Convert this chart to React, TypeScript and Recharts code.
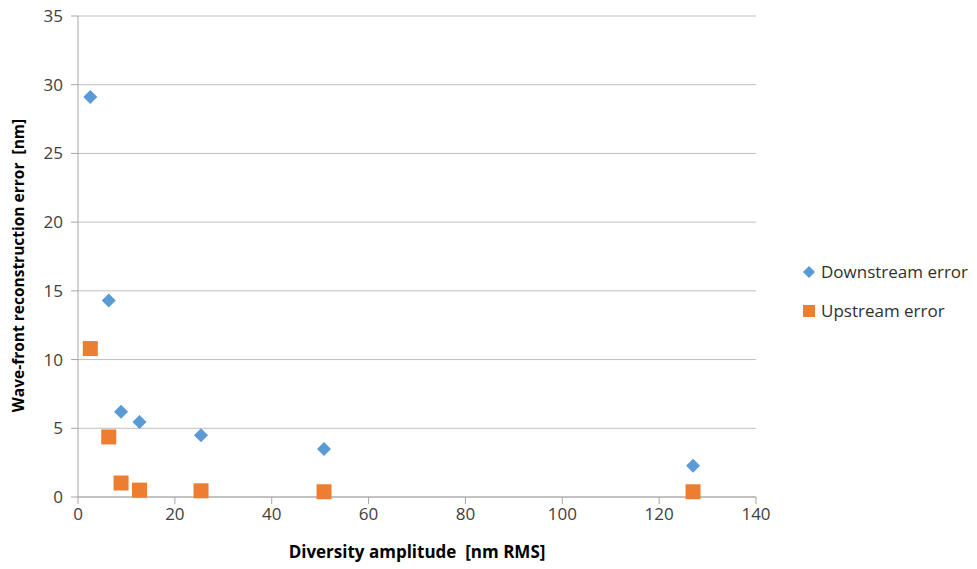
import { ScatterChart, Scatter, XAxis, YAxis, CartesianGrid } from 'recharts';

const DIVERSITY = [2.54, 6.35, 8.89, 12.7, 25.4, 50.8, 127];
const DOWNSTREAM = [29.1, 14.3, 6.2, 5.45, 4.5, 3.5, 2.27];
const UPSTREAM = [10.8, 4.37, 1.02, 0.5, 0.45, 0.38, 0.38];
const X_TICKS = [0, 20, 40, 60, 80, 100, 120, 140];
const Y_TICKS = [0, 5, 10, 15, 20, 25, 30, 35];

const BLUE = '#5B9BD5';
const ORANGE = '#ED7D31';
const FONT = "'Open Sans', 'Liberation Sans', sans-serif";

const downData = DIVERSITY.map((x, i) => ({ x, y: DOWNSTREAM[i] }));
const upData = DIVERSITY.map((x, i) => ({ x, y: UPSTREAM[i] }));

const Diamond = (p: any) => (
  <polygon
    points={`${p.cx},${p.cy - 7} ${p.cx + 7},${p.cy} ${p.cx},${p.cy + 7} ${p.cx - 7},${p.cy}`}
    fill={BLUE}
  />
);

const Square = (p: any) => <rect x={p.cx - 7.5} y={p.cy - 7.5} width={15} height={15} fill={ORANGE} />;

// y title sits a little below the plot centre in the original
const YTitle = (p: any) => {
  const vb = p.viewBox;
  const cx = 18;
  const cy = vb.y + vb.height / 2 + 9;
  return (
    <text
      x={cx}
      y={cy}
      transform={`rotate(-90, ${cx}, ${cy})`}
      textAnchor="middle"
      dominantBaseline="central"
      fill="#000"
      fontSize={15.5}
      fontWeight="bold"
      fontFamily={FONT}
    >
      {'Wave-front reconstruction error\u00a0 [nm]'}
    </text>
  );
};

const LegendBox = () => (
  <div
    style={{
      position: 'absolute',
      left: 802,
      top: 261,
      fontFamily: FONT,
      fontSize: 17,
      color: '#303030',
      lineHeight: '22px',
    }}
  >
    <div style={{ display: 'flex', alignItems: 'center', marginBottom: 17 }}>
      <svg width={14} height={14} style={{ marginRight: 5 }}>
        <polygon points="7,1 13,7 7,13 1,7" fill={BLUE} />
      </svg>
      Downstream error
    </div>
    <div style={{ display: 'flex', alignItems: 'center' }}>
      <svg width={14} height={14} style={{ marginRight: 5 }}>
        <rect x={1} y={1} width={12} height={12} fill={ORANGE} />
      </svg>
      Upstream error
    </div>
  </div>
);

export default function App() {
  return (
    <div style={{ position: 'absolute', left: 0, top: 0, width: 977, height: 569, background: '#fff' }}>
      <ScatterChart width={977} height={569} margin={{ top: 16, right: 221, bottom: 42, left: 30 }}>
        <CartesianGrid stroke="#BFBFBF" vertical={false} />
        <XAxis
          type="number"
          dataKey="x"
          domain={[0, 140]}
          ticks={X_TICKS}
          interval={0}
          height={30}
          stroke="#A6A6A6"
          tickSize={7}
          tickMargin={4}
          tick={{ fill: '#404040', fontSize: 17, fontFamily: FONT }}
          label={{
            value: 'Diversity amplitude\u00a0 [nm RMS]',
            position: 'bottom',
            offset: 19,
            style: { fill: '#000', fontSize: 17, fontWeight: 'bold', fontFamily: FONT },
          }}
        />
        <YAxis
          type="number"
          dataKey="y"
          domain={[0, 35]}
          ticks={Y_TICKS}
          interval={0}
          width={48}
          stroke="#A6A6A6"
          tickSize={7}
          tickMargin={8}
          tick={{ fill: '#404040', fontSize: 17, fontFamily: FONT }}
          label={<YTitle />}
        />
        <Scatter name="Downstream error" data={downData} fill={BLUE} shape={Diamond} isAnimationActive={false} />
        <Scatter name="Upstream error" data={upData} fill={ORANGE} shape={Square} isAnimationActive={false} />
      </ScatterChart>
      <LegendBox />
    </div>
  );
}
